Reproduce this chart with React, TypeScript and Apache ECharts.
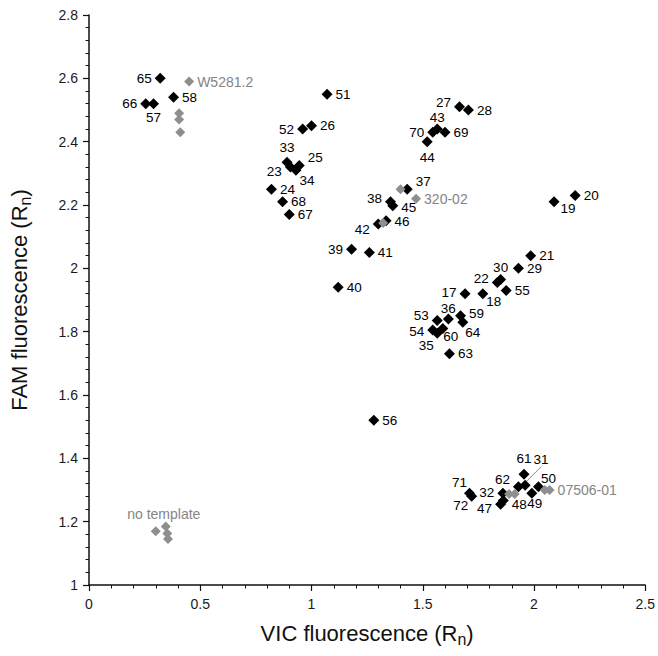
import React, { useEffect, useRef } from "react";
import * as echarts from "echarts";

// ---- data ----
const blackIds = ["65","58","66","57","51","52","26","33","23","25","34","24","68","67","27","28","43","70","69","44","37","38","45","46","42","39","41","40","20","19","21","29","30","22","55","17","18","36","53","59","64","60","54","35","63","56","61","62","31","50","49","71","72","32","47","48"];
const blackX = [0.32,0.38,0.255,0.29,1.07,0.96,1.0,0.89,0.905,0.945,0.93,0.82,0.87,0.9,1.665,1.705,1.565,1.545,1.6,1.52,1.43,1.355,1.365,1.335,1.3,1.18,1.26,1.12,2.185,2.09,1.985,1.93,1.85,1.835,1.875,1.69,1.77,1.615,1.565,1.67,1.68,1.59,1.545,1.565,1.62,1.28,1.955,1.93,1.96,2.02,1.99,1.71,1.72,1.86,1.85,1.862];
const blackY = [2.6,2.54,2.52,2.52,2.55,2.44,2.45,2.335,2.32,2.325,2.31,2.25,2.21,2.17,2.51,2.5,2.44,2.43,2.43,2.4,2.25,2.21,2.198,2.15,2.14,2.06,2.05,1.94,2.23,2.21,2.04,2.0,1.965,1.955,1.93,1.92,1.92,1.84,1.835,1.85,1.83,1.81,1.805,1.795,1.73,1.52,1.35,1.31,1.315,1.31,1.29,1.29,1.28,1.29,1.255,1.267];

const grayIds = ["W5281.2","","","","","320-02","","","","","07506-01","","no template","",""];
const grayX = [0.45,0.405,0.405,0.41,1.4,1.47,1.322,1.888,1.913,2.048,2.07,0.3,0.345,0.352,0.355];
const grayY = [2.59,2.49,2.47,2.43,2.25,2.22,2.143,1.287,1.287,1.3,1.3,1.17,1.185,1.163,1.145];

const xTicks = { min: 0, max: 2.5, interval: 0.5 };
const yTicks = { min: 1, max: 2.8, interval: 0.2 };

// ---- label placement (style only): [position, dx, dy] ----
const placement: Record<string, [string, number, number]> = {
  "65": ["left", 0, 0], "58": ["right", 0, 0], "66": ["left", 0, 0], "57": ["bottom", 0, -2],
  "51": ["right", 0, 0], "52": ["left", 0, 0], "26": ["right", 0, 0], "33": ["top", 0, 1],
  "23": ["left", 0, 4], "25": ["right", 0, -8], "34": ["right", -5, 10], "24": ["right", 0, 0],
  "68": ["right", 0, 0], "67": ["right", 0, 0], "27": ["left", 0, -4], "28": ["right", 0, 0],
  "43": ["top", 0, 4], "70": ["left", 0, 0], "69": ["right", 0, 0], "44": ["bottom", 0, 0],
  "37": ["right", 0, -8], "38": ["left", 0, -3], "45": ["right", 0, 2], "46": ["right", 0, 1],
  "42": ["left", 0, 5], "39": ["left", 0, 0], "41": ["right", 0, 0], "40": ["right", 0, 0],
  "20": ["right", 0, 0], "19": ["right", -2, 7], "21": ["right", 0, 0], "29": ["right", 0, 0],
  "30": ["top", 0, 4], "22": ["left", 0, -4], "55": ["right", 0, 0], "17": ["left", 0, -1],
  "18": ["right", -5, 8], "36": ["top", 0, 5], "53": ["left", 0, -5], "59": ["right", 0, -2],
  "64": ["right", -6, 10], "60": ["right", -8, 8], "54": ["left", 0, 1], "35": ["bottom", -11, -3],
  "63": ["right", 0, 0], "56": ["right", 0, 0], "61": ["top", 0, 0], "62": ["left", 0, -7],
  "31": ["top", 16, -10], "50": ["right", -6, -8], "49": ["bottom", 3, -5], "71": ["top", -10, 5],
  "72": ["bottom", -11, -6], "32": ["left", 0, -1], "47": ["left", 0, 4], "48": ["right", 0, 4],
  "W5281.2": ["right", 0, 0], "320-02": ["right", 0, 0], "07506-01": ["right", 0, 0],
  "no template": ["top", -2, 3],
};

const FONT = "'Liberation Sans', Arial, Helvetica, sans-serif";
const BLACK = "#000000";
const GRAY = "#8e8e8e";

function buildItems(ids: string[], xs: number[], ys: number[], color: string) {
  return ids.map((id, i) => {
    const p = placement[id];
    const item: any = { value: [xs[i], ys[i]], name: id };
    if (id && p) {
      item.label = { show: true, position: p[0], color };
    } else {
      item.label = { show: false };
    }
    if (id === "31") {
      item.labelLine = { show: true, lineStyle: { color: "#8a8a8a", width: 1 } };
    }
    return item;
  });
}

const shiftLabel = (params: any) => {
  const p = placement[params.text];
  if (!p) return {};
  return { dx: p[1], dy: p[2] };
};

export default function App() {
  const ref = useRef<HTMLDivElement>(null);
  useEffect(() => {
    document.body.style.margin = "0";
    if (!ref.current) return;
    const chart = echarts.init(ref.current, null, { renderer: "svg" });
    const axisCommon = {
      axisLine: { show: true, onZero: false, lineStyle: { color: "#111", width: 1.5 } },
      axisTick: { show: true, inside: false, length: 6, lineStyle: { color: "#111", width: 1.2 } },
      minorTick: { show: true, splitNumber: 5, length: 3.5, lineStyle: { color: "#111", width: 1 } },
      splitLine: { show: false },
      minorSplitLine: { show: false },
      axisLabel: { fontSize: 14, color: "#1a1a1a", fontFamily: FONT },
      nameLocation: "middle" as const,
    };
    const nameStyle = {
      fontSize: 22,
      color: "#111",
      fontFamily: FONT,
      rich: {
        s: { fontSize: 16, fontFamily: FONT, color: "#111", padding: [12, 0, 0, 0] },
      },
    };
    chart.setOption({
      animation: false,
      backgroundColor: "#ffffff",
      grid: { left: 88, right: 12, top: 15, bottom: 71, containLabel: false },
      xAxis: {
        type: "value",
        ...axisCommon,
        min: xTicks.min,
        max: xTicks.max,
        interval: xTicks.interval,
        axisLabel: { ...axisCommon.axisLabel, margin: 12 },
        name: "VIC fluorescence (R{s|n})",
        nameGap: 34,
        nameTextStyle: nameStyle,
      },
      yAxis: {
        type: "value",
        ...axisCommon,
        min: yTicks.min,
        max: yTicks.max,
        interval: yTicks.interval,
        axisLabel: { ...axisCommon.axisLabel, margin: 11 },
        name: "FAM fluorescence (R{s|n})",
        nameGap: 56,
        nameTextStyle: nameStyle,
      },
      series: [
        {
          type: "scatter",
          symbol: "diamond",
          symbolSize: 11,
          itemStyle: { color: BLACK, opacity: 1 },
          label: { show: true, fontSize: 13.5, fontFamily: FONT, distance: 3, formatter: "{b}" },
          labelLayout: shiftLabel,
          data: buildItems(blackIds, blackX, blackY, "#000"),
        },
        {
          type: "scatter",
          symbol: "diamond",
          symbolSize: 10,
          itemStyle: { color: GRAY, opacity: 1 },
          label: { show: true, fontSize: 14, fontFamily: FONT, distance: 3, formatter: "{b}" },
          labelLayout: shiftLabel,
          data: buildItems(grayIds, grayX, grayY, "#858585"),
        },
      ],
    });
    return () => chart.dispose();
  }, []);
  return <div ref={ref} style={{ width: 658, height: 656 }} />;
}
